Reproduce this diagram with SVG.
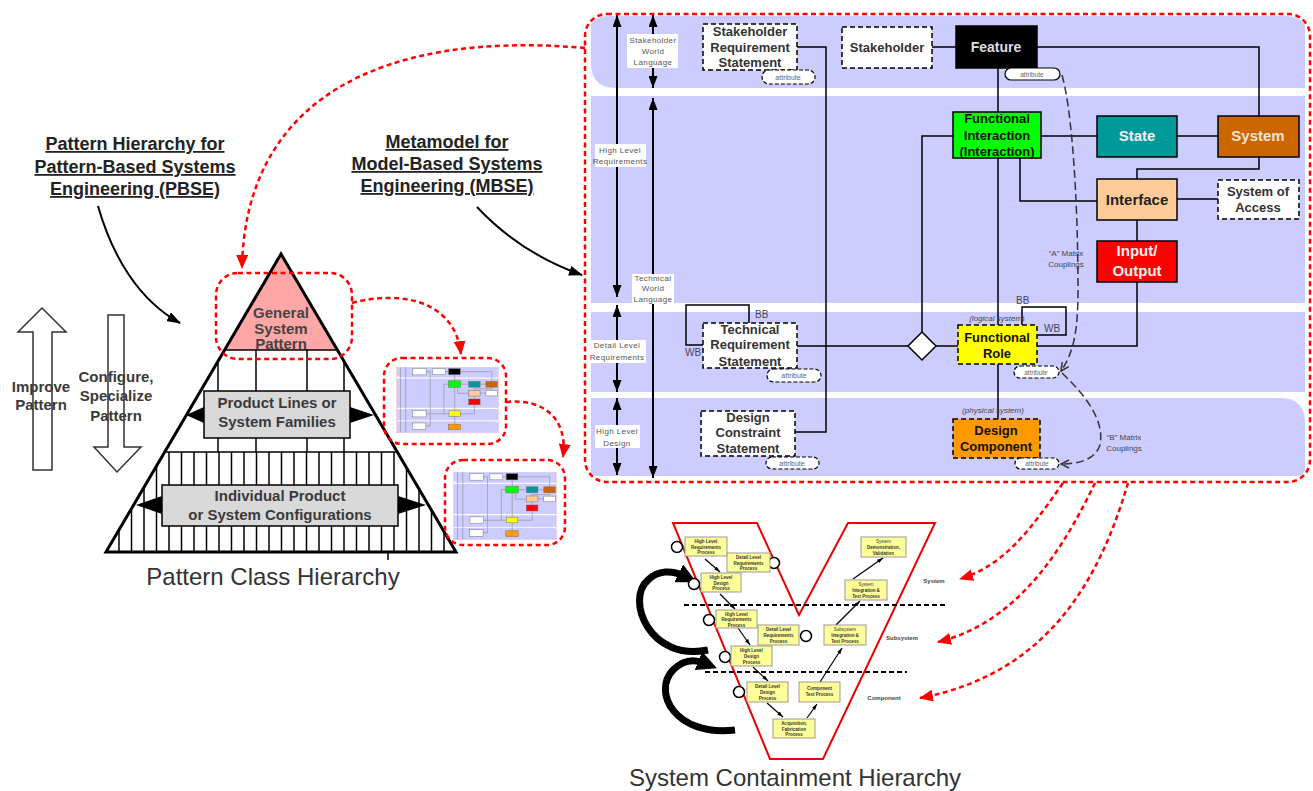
<svg xmlns="http://www.w3.org/2000/svg" width="1313" height="791" viewBox="0 0 1313 791">
<style>
text{font-family:"Liberation Sans",Arial,sans-serif}
.nb{font-size:13px;font-weight:bold;text-anchor:middle;fill:#333}
.nk{font-size:13px;font-weight:bold;text-anchor:middle;fill:#111}
.nw{font-size:15px;font-weight:bold;text-anchor:middle;fill:#f0f0f0}
.dn{fill:#fff;stroke:#000;stroke-width:1.5;stroke-dasharray:5 3}
.sn{stroke:#000;stroke-width:1.5}
.cn{fill:none;stroke:#000;stroke-width:1.5}
.rd{fill:none;stroke:#f00;stroke-width:2.5;stroke-dasharray:5 3.5}
.lb{font-size:8px;fill:#555;text-anchor:middle;letter-spacing:.4px}
.pl{fill:#fff;stroke:#000;stroke-width:1.2;stroke-dasharray:4 2}
.pt{font-size:7px;fill:#666;text-anchor:middle}
.band{fill:#ccccff}
.yb{fill:#ffff99;stroke:#999;stroke-width:1}
.yt{font-size:4.5px;font-weight:bold;fill:#333;text-anchor:middle}
.ttl{font-size:18px;font-weight:bold;text-anchor:middle;fill:#222;text-decoration:underline}
.pb{font-size:15px;font-weight:bold;text-anchor:middle;fill:#3a3a3a}
.sm{font-size:8px;fill:#444;text-anchor:middle}
.vl{font-size:6px;font-weight:bold;fill:#444;text-anchor:middle}
.lc{fill:#fff;stroke:#000;stroke-width:1.5}
.va{fill:none;stroke:#000;stroke-width:2}
.pbx{fill:#d9d9d9;stroke:#000;stroke-width:1.5}
.cap{font-size:24px;fill:#333;text-anchor:middle}
</style>
<defs>
<marker id="ah" viewBox="0 0 12 9" refX="12" refY="4.5" markerWidth="12" markerHeight="9" markerUnits="userSpaceOnUse" orient="auto-start-reverse"><path d="M0,0 L12,4.5 L0,9 z" fill="#000"/></marker>
<marker id="ahc" viewBox="0 0 14 10" refX="13" refY="5" markerWidth="14" markerHeight="10" markerUnits="userSpaceOnUse" orient="auto"><path d="M0,0 L14,5 L0,10 z" fill="#000"/></marker>
<marker id="rah" viewBox="0 0 14 12" refX="13" refY="6" markerWidth="14" markerHeight="12" markerUnits="userSpaceOnUse" orient="auto"><path d="M0,0 L14,6 L0,12 z" fill="#f00"/></marker>
<marker id="oc" viewBox="0 0 10 10" refX="9" refY="5" markerWidth="10" markerHeight="10" markerUnits="userSpaceOnUse" orient="auto"><path d="M1,1 L9,5 L1,9" fill="none" stroke="#333" stroke-width="1.5"/></marker>
<marker id="sa" viewBox="0 0 6 4" refX="6" refY="2" markerWidth="6" markerHeight="4" markerUnits="userSpaceOnUse" orient="auto"><path d="M0,0 L6,2 L0,4 z" fill="#000"/></marker>
<marker id="big" viewBox="0 0 10 10" refX="3" refY="5" markerWidth="20" markerHeight="20" markerUnits="userSpaceOnUse" orient="auto"><path d="M0,0 L10,5 L0,10 z" fill="#000"/></marker>
<clipPath id="mmclip"><rect x="587" y="16" width="721" height="464" rx="20"/></clipPath>
<clipPath id="tri"><polygon points="281,254 106,552 456,552"/></clipPath>
<symbol id="thumb" viewBox="585 14 725 468" preserveAspectRatio="none">
<rect x="585" y="14" width="725" height="468" fill="#fff" stroke="#f99" stroke-width="6"/>
<path class="band" d="M591 16 H1305 V88 H615 Q591 88 591 63 Z"/>
<rect class="band" x="591" y="96" width="714" height="207"/>
<rect class="band" x="591" y="312" width="714" height="80"/>
<path class="band" d="M591 398 H1280 Q1305 398 1305 423 V478 H591 Z"/>
<path d="M617 16 V476 M653 16 V478 M797 47 H826 V432 H795 M932 47 H956 M1037 47 H1259 V116 M998 68 V325 M1041 136 H1218 M1259 157 V169 H1137 V241 M1020 158 V201 H1097 M1177 199 H1218 M1137 282 V346 H1037 M953 136 H922 V346 M797 346 H958 M998 364 V419" fill="none" stroke="#888" stroke-width="4"/>
<g stroke="#666" stroke-width="3">
<rect x="703" y="24" width="94" height="46" fill="#fff"/>
<rect x="703" y="323" width="94" height="45" fill="#fff"/>
<rect x="701" y="411" width="94" height="45" fill="#fff"/>
<rect x="842" y="27" width="90" height="41" fill="#fff"/>
<rect x="1218" y="180" width="81" height="39" fill="#fff"/>
<rect x="956" y="26" width="81" height="42" fill="#000"/>
<rect x="953" y="112" width="88" height="46" fill="#00ff00"/>
<rect x="1097" y="116" width="80" height="41" fill="#009999"/>
<rect x="1218" y="116" width="81" height="41" fill="#cc6600"/>
<rect x="1097" y="179" width="80" height="41" fill="#ffcc99"/>
<rect x="1097" y="241" width="80" height="41" fill="#ff0000"/>
<rect x="958" y="325" width="79" height="39" fill="#ffff00"/>
<rect x="953" y="419" width="87" height="39" fill="#ff9900"/>
</g>
</symbol>
</defs>
<rect width="1313" height="791" fill="#fff"/>

<!-- ===== Metamodel container ===== -->
<g id="metamodel-bands" clip-path="url(#mmclip)">
<path class="band" d="M591 16 H1305 V88 H616 Q591 88 591 63 Z"/>
<rect class="band" x="591" y="96" width="714" height="207"/>
<rect class="band" x="591" y="312" width="714" height="80"/>
<path class="band" d="M591 398 H1280 Q1305 398 1305 423 V476 H591 Z"/>
</g>
<rect id="metamodel-frame" class="rd" x="585" y="14" width="725" height="468" rx="22"/>

<!-- level arrows -->
<g id="level-arrows">
<line class="va" x1="617" y1="15" x2="617" y2="297" marker-start="url(#ah)" marker-end="url(#ah)"/>
<line class="va" x1="617" y1="305" x2="617" y2="392" marker-start="url(#ah)" marker-end="url(#ah)"/>
<line class="va" x1="617" y1="398" x2="617" y2="475" marker-start="url(#ah)" marker-end="url(#ah)"/>
<line class="va" x1="653" y1="15" x2="653" y2="88" marker-start="url(#ah)" marker-end="url(#ah)"/>
<line class="va" x1="653" y1="98" x2="653" y2="478" marker-start="url(#ah)" marker-end="url(#ah)"/>
<rect x="627" y="34" width="51" height="34" fill="#fff"/>
<text class="lb" x="653" y="43">Stakeholder</text>
<text class="lb" x="653" y="54">World</text>
<text class="lb" x="653" y="65">Language</text>
<rect x="595" y="144" width="51" height="23" fill="#fff"/>
<text class="lb" x="620" y="153">High Level</text>
<text class="lb" x="620" y="164">Requirements</text>
<rect x="632" y="274" width="42" height="30" fill="#fff"/>
<text class="lb" x="653" y="281">Technical</text>
<text class="lb" x="653" y="291">World</text>
<text class="lb" x="653" y="302">Language</text>
<rect x="587" y="340" width="59" height="23" fill="#fff"/>
<text class="lb" x="617" y="348">Detail Level</text>
<text class="lb" x="617" y="360">Requirements</text>
<rect x="595" y="425" width="45" height="23" fill="#fff"/>
<text class="lb" x="617" y="434">High Level</text>
<text class="lb" x="617" y="446">Design</text>
</g>

<!-- connectors -->
<g id="connectors">
<path class="cn" d="M797 47 H826 V432 H795"/>
<path class="cn" d="M932 47 H956"/>
<path class="cn" d="M1037 47 H1259 V116"/>
<path class="cn" d="M998 68 V112"/>
<path class="cn" d="M1041 136 H1097"/>
<path class="cn" d="M1177 136 H1218"/>
<path class="cn" d="M1259 157 V169 H1137 V179"/>
<path class="cn" d="M1020 158 V201 H1097"/>
<path class="cn" d="M1177 199 H1218"/>
<path class="cn" d="M1137 220 V241"/>
<path class="cn" d="M1137 282 V346 H1037"/>
<path class="cn" d="M953 136 H922 V332"/>
<path class="cn" d="M998 158 V325"/>
<path class="cn" d="M797 346 H908"/>
<path class="cn" d="M936 346 H958"/>
<path class="cn" d="M998 364 V419"/>
<path class="cn" d="M749 323 V305 H686 V345 H703"/>
<path class="cn" d="M1022 325 V307 H1066 V335 H1037"/>
<polygon points="922,332 936,346 922,360 908,346" fill="#fff" stroke="#000" stroke-width="1.5"/>
<path d="M1062 75 C1072 110 1078 200 1078 290 C1078 330 1074 352 1061 371" fill="none" stroke="#333" stroke-width="1.5" stroke-dasharray="8 4" marker-end="url(#oc)"/>
<path d="M1062 373 C1085 395 1105 420 1100 445 C1095 460 1078 464 1061 464" fill="none" stroke="#333" stroke-width="1.5" stroke-dasharray="8 4" marker-end="url(#oc)"/>
<text class="sm" x="1066" y="256">“A” Matrix</text>
<text class="sm" x="1066" y="267">Couplings</text>
<text class="sm" x="1124" y="440">“B” Matrix</text>
<text class="sm" x="1124" y="451">Couplings</text>
<text x="755" y="318" font-size="10" fill="#445">BB</text>
<text x="685" y="356" font-size="10" fill="#445">WB</text>
<text x="1016" y="304" font-size="10" fill="#445">BB</text>
<text x="1044" y="332" font-size="10" fill="#445">WB</text>
</g>

<!-- metamodel nodes -->
<g id="node-srs">
<rect class="dn" x="703" y="24" width="94" height="46"/>
<text class="nb" x="750" y="36">Stakeholder</text>
<text class="nb" x="750" y="52">Requirement</text>
<text class="nb" x="750" y="67">Statement</text>
<rect class="pl" x="762" y="70" width="53" height="14" rx="7"/>
<text class="pt" x="788" y="80">attribute</text>
</g>
<g id="node-stakeholder">
<rect class="dn" x="842" y="27" width="90" height="41"/>
<text class="nb" x="887" y="52">Stakeholder</text>
</g>
<g id="node-feature">
<rect class="sn" x="956" y="26" width="81" height="42" fill="#000"/>
<text class="nw" x="996" y="52" style="font-size:14px;fill:#ddd">Feature</text>
<rect class="pl" x="1005" y="68" width="55" height="12" rx="6" style="stroke-dasharray:none"/>
<text class="pt" x="1032" y="77" style="font-size:6.5px">attribute</text>
</g>
<g id="node-fi">
<rect class="sn" x="953" y="112" width="88" height="46" fill="#00ff00"/>
<text class="nk" x="997" y="123">Functional</text>
<text class="nk" x="997" y="140">Interaction</text>
<text class="nk" x="997" y="156">(Interaction)</text>
</g>
<g id="node-state">
<rect class="sn" x="1097" y="116" width="80" height="41" fill="#009999"/>
<text class="nw" x="1137" y="141">State</text>
</g>
<g id="node-system">
<rect class="sn" x="1218" y="116" width="81" height="41" fill="#cc6600"/>
<text class="nw" x="1258" y="141" style="fill:#f6e4d0">System</text>
</g>
<g id="node-interface">
<rect class="sn" x="1097" y="179" width="80" height="41" fill="#ffcc99"/>
<text class="nw" x="1137" y="205" style="fill:#222">Interface</text>
</g>
<g id="node-soa">
<rect class="dn" x="1218" y="180" width="81" height="39"/>
<text class="nb" x="1258" y="196">System of</text>
<text class="nb" x="1258" y="212">Access</text>
</g>
<g id="node-io">
<rect class="sn" x="1097" y="241" width="80" height="41" fill="#ff0000"/>
<text class="nw" x="1137" y="256">Input/</text>
<text class="nw" x="1137" y="276">Output</text>
</g>
<g id="node-fr">
<text x="997" y="321" font-size="8" font-style="italic" fill="#444" text-anchor="middle">(logical system)</text>
<rect class="dn" x="958" y="325" width="79" height="39" style="fill:#ffff00"/>
<text class="nk" x="997" y="342">Functional</text>
<text class="nk" x="997" y="358">Role</text>
<rect class="pl" x="1014" y="366" width="45" height="12" rx="6"/>
<text class="pt" x="1036" y="375" style="font-size:6.5px">attribute</text>
</g>
<g id="node-dc">
<text x="993" y="413" font-size="8" font-style="italic" fill="#444" text-anchor="middle">(physical system)</text>
<rect class="dn" x="953" y="419" width="87" height="39" style="fill:#ff9900"/>
<text class="nk" x="996" y="435">Design</text>
<text class="nk" x="996" y="451">Component</text>
<rect class="pl" x="1015" y="458" width="44" height="11" rx="5.5"/>
<text class="pt" x="1037" y="466" style="font-size:6.5px">attribute</text>
</g>
<g id="node-trs">
<rect class="dn" x="703" y="323" width="94" height="45"/>
<text class="nb" x="750" y="334">Technical</text>
<text class="nb" x="750" y="349">Requirement</text>
<text class="nb" x="750" y="366">Statement</text>
<rect class="pl" x="767" y="369" width="54" height="13" rx="6.5"/>
<text class="pt" x="794" y="378">attribute</text>
</g>
<g id="node-dcs">
<rect class="dn" x="701" y="411" width="94" height="45"/>
<text class="nb" x="748" y="422">Design</text>
<text class="nb" x="748" y="437">Constraint</text>
<text class="nb" x="748" y="453">Statement</text>
<rect class="pl" x="766" y="457" width="53" height="12" rx="6"/>
<text class="pt" x="792" y="466">attribute</text>
</g>

<!-- ===== Left side titles and arrows ===== -->
<g id="title-pbse">
<text class="ttl" x="135" y="150">Pattern Hierarchy for</text>
<text class="ttl" x="135" y="173">Pattern-Based Systems</text>
<text class="ttl" x="135" y="195">Engineering (PBSE)</text>
</g>
<g id="title-mbse">
<text class="ttl" x="447" y="148">Metamodel for</text>
<text class="ttl" x="447" y="170">Model-Based Systems</text>
<text class="ttl" x="447" y="192">Engineering (MBSE)</text>
</g>
<g id="title-arrows">
<path d="M98 206 C112 255 138 300 180 323" fill="none" stroke="#000" stroke-width="2" marker-end="url(#ahc)"/>
<path d="M477 207 C508 240 545 262 582 275" fill="none" stroke="#000" stroke-width="2" marker-end="url(#ahc)"/>
</g>

<g id="improve-arrow">
<polygon points="33,470 33,332 18,332 42,308 66,332 52,332 52,470" fill="#fff" stroke="#333" stroke-width="1.5"/>
<text class="pb" x="41" y="392">Improve</text>
<text class="pb" x="41" y="410">Pattern</text>
</g>
<g id="configure-arrow">
<polygon points="108,315 124,315 124,447 141,447 117,472 94,447 108,447" fill="#fff" stroke="#333" stroke-width="1.5"/>
<text class="pb" x="116" y="382">Configure,</text>
<text class="pb" x="116" y="401">Specialize</text>
<text class="pb" x="116" y="421">Pattern</text>
</g>

<!-- ===== Pyramid ===== -->
<g id="pyramid">
<polygon points="281,256 226,350 336,350" fill="#ffa6a6"/>
<g clip-path="url(#tri)" stroke="#000" stroke-width="1.5">
<line x1="100" y1="350" x2="460" y2="350"/>
<line x1="100" y1="452" x2="460" y2="452"/>
<path d="M218 350 V452 M256 350 V452 M307 350 V452 M344 350 V452"/>
<path d="M119 452 V552 M131.5 452 V552 M144 452 V552 M156.5 452 V552 M169 452 V552 M181.5 452 V552 M194 452 V552 M206.5 452 V552 M219 452 V552 M231.5 452 V552 M244 452 V552 M256.5 452 V552 M269 452 V552 M281.5 452 V552 M294 452 V552 M306.5 452 V552 M319 452 V552 M331.5 452 V552 M344 452 V552 M356.5 452 V552 M369 452 V552 M381.5 452 V552 M394 452 V552 M406.5 452 V552 M419 452 V552 M431.5 452 V552 M444 452 V552"/>
</g>
<polygon points="281,254 106,552 456,552" fill="none" stroke="#000" stroke-width="3" stroke-linejoin="miter"/>
<line x1="388" y1="552" x2="388" y2="560" stroke="#000" stroke-width="1.5"/>
</g>
<g id="node-gsp">
<text class="pb" x="281" y="318" style="fill:#444">General</text>
<text class="pb" x="281" y="334" style="fill:#444">System</text>
<text class="pb" x="281" y="349" style="fill:#444">Pattern</text>
<rect class="rd" x="216" y="273" width="136" height="86" rx="22"/>
</g>
<g id="node-product-lines">
<polygon points="204,407 186,415 204,423" fill="#000"/>
<polygon points="350,407 374,415 350,423" fill="#000"/>
<rect class="pbx" x="204" y="391" width="146" height="47"/>
<text class="pb" x="277" y="408">Product Lines or</text>
<text class="pb" x="277" y="427">System Families</text>
</g>
<g id="node-individual">
<polygon points="162,496 136,505 162,514" fill="#000"/>
<polygon points="398,496 426,505 398,514" fill="#000"/>
<rect class="pbx" x="162" y="485" width="236" height="41"/>
<text class="pb" x="280" y="501">Individual Product</text>
<text class="pb" x="280" y="520">or System Configurations</text>
</g>
<text class="cap" x="273" y="585">Pattern Class Hierarchy</text>

<!-- thumbnails -->
<g id="thumb1">
<use href="#thumb" x="396" y="367" width="103" height="66"/>
<rect class="rd" x="384" y="358" width="122" height="86" rx="18"/>
</g>
<g id="thumb2">
<use href="#thumb" x="453" y="472" width="104" height="68"/>
<rect class="rd" x="445" y="460" width="120" height="85" rx="18"/>
</g>

<!-- red dashed flow arrows -->
<g id="red-arrows">
<path class="rd" d="M585 48 C380 30 245 100 242 268" marker-end="url(#rah)"/>
<path class="rd" d="M352 303 C400 290 455 300 461 354" marker-end="url(#rah)"/>
<path class="rd" d="M506 402 C545 398 568 420 563 457" marker-end="url(#rah)"/>
<path class="rd" d="M1063 483 C1030 530 1005 565 960 579" marker-end="url(#rah)"/>
<path class="rd" d="M1095 483 C1065 545 1020 622 938 642" marker-end="url(#rah)"/>
<path class="rd" d="M1128 483 C1105 560 1060 672 920 698" marker-end="url(#rah)"/>
</g>

<!-- ===== V diagram ===== -->
<g id="v-diagram">
<polygon points="673,523 757,523 799,615 848,523 935,523 823,759 770,759" fill="none" stroke="#e00" stroke-width="2"/>
<path d="M684 605 H945 M705 672 H907" stroke="#000" stroke-width="2" stroke-dasharray="5 3"/>
<path d="M708 650 C650 662 625 600 648 580 C658 570 672 570 684 576" fill="none" stroke="#000" stroke-width="7" marker-end="url(#big)"/>
<path d="M735 730 C675 737 652 692 673 670 C683 660 694 659 704 663" fill="none" stroke="#000" stroke-width="7" marker-end="url(#big)"/>
<g>
<circle class="lc" cx="677" cy="547" r="5.5"/>
<circle class="lc" cx="774" cy="563" r="5.5"/>
<circle class="lc" cx="694" cy="584" r="5.5"/>
<circle class="lc" cx="709" cy="620" r="5.5"/>
<circle class="lc" cx="806" cy="636" r="5.5"/>
<circle class="lc" cx="725" cy="657" r="5.5"/>
<circle class="lc" cx="739" cy="692" r="5.5"/>
</g>
<g stroke="#000" stroke-width="1.2" marker-end="url(#sa)">
<line x1="705" y1="559" x2="720" y2="572"/>
<line x1="720" y1="594" x2="735" y2="609"/>
<line x1="738" y1="628" x2="750" y2="645"/>
<line x1="753" y1="667" x2="768" y2="681"/>
<line x1="767" y1="703" x2="783" y2="717"/>
<line x1="807" y1="718" x2="817" y2="704"/>
<line x1="820" y1="682" x2="842" y2="648"/>
<line x1="836" y1="625" x2="860" y2="601"/>
<line x1="853" y1="579" x2="883" y2="558"/>
</g>
</g>
<g id="v-b1"><rect class="yb" x="685" y="537" width="42" height="19"/><text class="yt" x="706" y="543">High Level</text><text class="yt" x="706" y="548.5">Requirements</text><text class="yt" x="706" y="554">Process</text></g>
<g id="v-b2"><rect class="yb" x="727" y="553" width="43" height="19"/><text class="yt" x="748.5" y="559">Detail Level</text><text class="yt" x="748.5" y="564.5">Requirements</text><text class="yt" x="748.5" y="570">Process</text></g>
<g id="v-b3"><rect class="yb" x="701" y="573" width="40" height="19"/><text class="yt" x="721" y="579">High Level</text><text class="yt" x="721" y="584.5">Design</text><text class="yt" x="721" y="590">Process</text></g>
<g id="v-b4"><rect class="yb" x="861" y="537" width="45" height="20"/><text class="yt" x="883.5" y="543" style="font-weight:normal">System</text><text class="yt" x="883.5" y="549">Demonstration,</text><text class="yt" x="883.5" y="555">Validation</text></g>
<g id="v-b5"><rect class="yb" x="845" y="580" width="42" height="20"/><text class="yt" x="866" y="586" style="font-weight:normal">System</text><text class="yt" x="866" y="592">Integration &amp;</text><text class="yt" x="866" y="598">Test Process</text></g>
<g id="v-b6"><rect class="yb" x="716" y="610" width="41" height="18"/><text class="yt" x="736.5" y="615.5">High Level</text><text class="yt" x="736.5" y="621">Requirements</text><text class="yt" x="736.5" y="626.5">Process</text></g>
<g id="v-b7"><rect class="yb" x="758" y="625" width="41" height="20"/><text class="yt" x="778.5" y="631">Detail Level</text><text class="yt" x="778.5" y="637">Requirements</text><text class="yt" x="778.5" y="643">Process</text></g>
<g id="v-b8"><rect class="yb" x="824" y="625" width="42" height="20"/><text class="yt" x="845" y="631" style="font-weight:normal">Subsystem</text><text class="yt" x="845" y="637">Integration &amp;</text><text class="yt" x="845" y="643">Test Process</text></g>
<g id="v-b9"><rect class="yb" x="731" y="646" width="41" height="20"/><text class="yt" x="751.5" y="652">High Level</text><text class="yt" x="751.5" y="658">Design</text><text class="yt" x="751.5" y="664">Process</text></g>
<g id="v-b10"><rect class="yb" x="747" y="682" width="41" height="20"/><text class="yt" x="767.5" y="688">Detail Level</text><text class="yt" x="767.5" y="694">Design</text><text class="yt" x="767.5" y="700">Process</text></g>
<g id="v-b11"><rect class="yb" x="799" y="682" width="41" height="20"/><text class="yt" x="819.5" y="690">Component</text><text class="yt" x="819.5" y="696">Test Process</text></g>
<g id="v-b12"><rect class="yb" x="773" y="719" width="42" height="19"/><text class="yt" x="794" y="725">Acquisition,</text><text class="yt" x="794" y="730.5">Fabrication</text><text class="yt" x="794" y="736">Process</text></g>
<g id="v-levels">
<text class="vl" x="934" y="583">System</text>
<text class="vl" x="902" y="640">Subsystem</text>
<text class="vl" x="884" y="700">Component</text>
</g>
<text class="cap" x="795" y="786">System Containment Hierarchy</text>
</svg>
